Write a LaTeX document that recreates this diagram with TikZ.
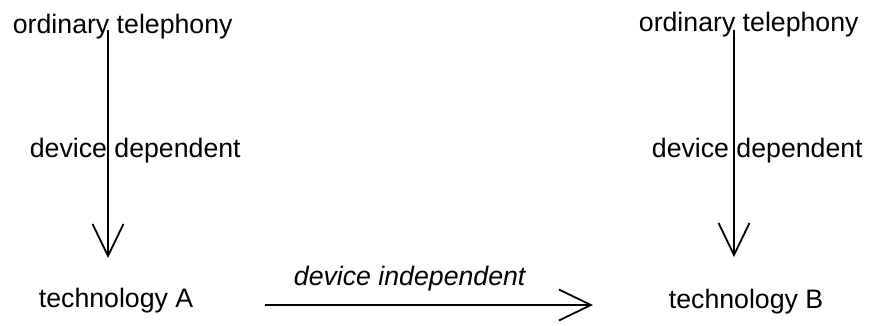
\documentclass[tikz,border=0pt]{standalone}
\usepackage{fontspec}
\setmainfont{Liberation Sans}
\usetikzlibrary{arrows.meta}
\begin{document}
\begin{tikzpicture}[x=1pt, y=-1pt, line join=round, line width=1.8pt,
		>={Straight Barb[length=32pt, width=31pt]},
		every node/.style={inner sep=0pt, anchor=base west, font=\fontsize{26.7}{32}\selectfont}]
	\useasboundingbox (0,0) rectangle (869,325);
	
	% left column
	\node (telA) at (12,33) {ordinary telephony};
	\node (devA) at (29,157) {device dependent};
	\node (techA) at (38,307) {technology A};
	
	% right column
	\node (telB) at (638,31) {ordinary telephony};
	\node (devB) at (651,157) {device dependent};
	\node (techB) at (668,308) {technology B};
	
	\node (indep) at (293,285) {\itshape device independent};
	
	\coordinate (A1) at (108,30);
	\coordinate (A2) at (108,258);
	\coordinate (B1) at (734,30);
	\coordinate (B2) at (734,257);
	\coordinate (H1) at (265,305);
	\coordinate (H2) at (593,305);
	
	\draw[->] (A1) -- (A2);
	\draw[->] (B1) -- (B2);
	\draw[->] (H1) -- (H2);
\end{tikzpicture}
\end{document}
